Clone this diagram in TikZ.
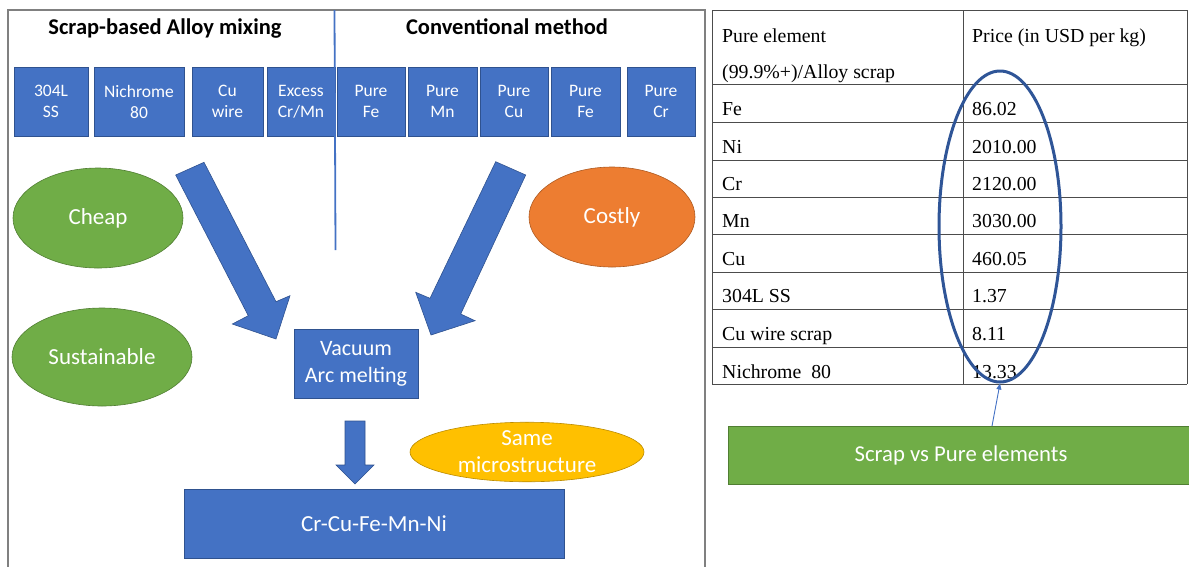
\documentclass[tikz,border=0pt]{standalone}
\usepackage{fontspec}
\setmainfont{Carlito}
\newfontfamily\tnr{Liberation Serif}
\usetikzlibrary{shapes.geometric,arrows.meta}
\definecolor{ob}{HTML}{4472C4}
\definecolor{obd}{HTML}{2F528F}
\definecolor{og}{HTML}{70AD47}
\definecolor{ogd}{HTML}{507E32}
\definecolor{oo}{HTML}{ED7D31}
\definecolor{ood}{HTML}{AE5A21}
\definecolor{oy}{HTML}{FFC000}
\definecolor{oyd}{HTML}{BC8C00}
\definecolor{cb}{HTML}{2F5597}
\definecolor{frame}{HTML}{808080}
\tikzset{
  blk/.style={rectangle, fill=ob, draw=obd, line width=0.6pt, text=white, inner sep=0pt, align=center,
    minimum height=69pt, font=\fontsize{17.5}{21}\selectfont},
  oval/.style={ellipse, inner sep=0pt, text=white, line width=0.6pt, align=center, font=\fontsize{23}{27}\selectfont},
  ttl/.style={anchor=base, font=\bfseries\fontsize{22.5}{24}\selectfont},
  blockarrow/.style={fill=ob, draw=obd, line width=0.6pt, line join=miter},
  tline/.style={draw=black!70, line width=0.9pt},
  ttext/.style={anchor=base west, inner sep=0pt, font=\tnr\fontsize{19.8}{22}\selectfont},
}
\begin{document}
\begin{tikzpicture}[x=1pt,y=-1pt]
\useasboundingbox (0,0) rectangle (1189,566);
% left panel frame
\draw[draw=frame, line width=1.6pt] (8,570) -- (8,10) -- (705,10) -- (705,570);
% titles
\node[ttl] (t1) at (165,34) {Scrap-based Alloy mixing};
\node[ttl] (t2) at (507,34) {Conventional method};
% top boxes
\node[blk, minimum width=74pt] (b1) at (51,101.5) {304L\\SS};
\node[blk, minimum width=90pt] (b2) at (139,101.5) {Nichrome\\80};
\node[blk, minimum width=71pt] (b3) at (227.5,101.5) {Cu\\wire};
\node[blk, minimum width=68pt] (b4) at (301,101.5) {Excess\\Cr/Mn};
\node[blk, minimum width=68pt] (b5) at (371,101.5) {Pure\\Fe};
\node[blk, minimum width=69pt] (b6) at (442.5,101.5) {Pure\\Mn};
\node[blk, minimum width=68pt] (b7) at (514,101.5) {Pure\\Cu};
\node[blk, minimum width=69pt] (b8) at (585.5,101.5) {Pure\\Fe};
\node[blk, minimum width=68pt] (b9) at (661,101.5) {Pure\\Cr};
% divider
\coordinate (d1) at (334.5,10);
\coordinate (d2) at (335.5,250);
\draw[draw=ob, line width=1.8pt] (d1) -- (d2);
% ellipses
\node[oval, fill=og, draw=ogd, minimum width=170pt, minimum height=100pt] (cheap) at (98,218) {Cheap};
\node[oval, fill=og, draw=ogd, minimum width=180pt, minimum height=98pt] (sust) at (102,357) {Sustainable};
\node[oval, fill=oo, draw=ood, minimum width=166pt, minimum height=100pt] (costly) at (612,217) {Costly};
\node[oval, fill=oy, draw=oyd, minimum width=234pt, minimum height=50pt] (same) at (527,452) {Same\\microstructure};
% process boxes
\node[blk, minimum width=124pt, font=\fontsize{22}{27}\selectfont] (vac) at (356,363.5) {Vacuum\\Arc melting};
\node[blk, minimum width=380pt, font=\fontsize{23}{27}\selectfont] (alloy) at (374,523.5) {Cr-Cu-Fe-Mn-Ni};
% block arrows
\draw[blockarrow] (175.7,175) -- (204,162.3) -- (276,301.7) -- (290,295.7) -- (276,339) -- (232.3,324) -- (248.3,315.7) -- cycle;
\draw[blockarrow] (495.7,161.7) -- (525.7,175) -- (460.7,314) -- (475,320.7) -- (431,335) -- (415.7,292.3) -- (430,298.3) -- cycle;
\draw[blockarrow] (345,421) -- (365,421) -- (365,465) -- (374,465) -- (355,484) -- (336,465) -- (345,465) -- cycle;
% table
\foreach \y in {10,84,122,160,197,234,272,309,347,384} {\draw[tline] (712,\y) -- (1187,\y);}
\foreach \x in {712,963,1187} {\draw[tline] (\x,10) -- (\x,384);}
\node[ttext] (h1) at (722,42) {Pure element};
\node[ttext] (h2) at (722,78) {(99.9\%+)/Alloy scrap};
\node[ttext] (h3) at (972,42) {Price (in USD per kg)};
\node[ttext] (r1a) at (722,115) {Fe};
\node[ttext] (r1b) at (972,115) {86.02};
\node[ttext] (r2a) at (722,153) {Ni};
\node[ttext] (r2b) at (972,153) {2010.00};
\node[ttext] (r3a) at (722,190) {Cr};
\node[ttext] (r3b) at (972,190) {2120.00};
\node[ttext] (r4a) at (722,227) {Mn};
\node[ttext] (r4b) at (972,227) {3030.00};
\node[ttext] (r5a) at (722,265) {Cu};
\node[ttext] (r5b) at (972,265) {460.05};
\node[ttext] (r6a) at (722,302) {304L SS};
\node[ttext] (r6b) at (972,302) {1.37};
\node[ttext] (r7a) at (722,340) {Cu wire scrap};
\node[ttext] (r7b) at (972,340) {8.11};
\node[ttext] (r8a) at (722,378) {Nichrome\ \ 80};
\node[ttext] (r8b) at (972,378) {13.33};
% highlight ellipse
\node[ellipse, draw=cb, line width=3pt, minimum width=122pt, minimum height=311pt, inner sep=0pt] (circ) at (1000,226.5) {};
% green label box
\node[rectangle, fill=og, draw=ogd, line width=0.6pt, text=white, minimum width=466pt, minimum height=58pt, inner sep=0pt,
  font=\fontsize{22.7}{27}\selectfont] (sv) at (961,455) {Scrap vs Pure elements};
\coordinate (a0) at (992,426);
\draw[draw=ob, line width=0.9pt, -{Triangle[length=6pt,width=5pt]}] (a0) -- (circ.south);
\end{tikzpicture}
\end{document}
